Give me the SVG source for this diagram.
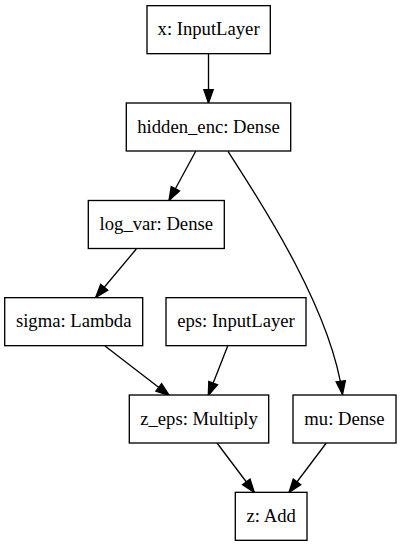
<svg xmlns="http://www.w3.org/2000/svg" width="401" height="547" viewBox="0 0 401 547">
<style>
.box{fill:#ffffff;stroke:#000000;stroke-width:1.33}
.lbl{font-family:"Liberation Serif","Times New Roman",serif;font-size:18.67px;fill:#000000;text-anchor:middle}
.edge{fill:none;stroke:#000000;stroke-width:1.33}
</style>
<defs>
<marker id="arr" markerUnits="userSpaceOnUse" markerWidth="16" markerHeight="12" viewBox="-1 -6 16 12" refX="13.33" refY="0" orient="auto">
<path d="M0,-4.67 L13.33,0 L0,4.67 Z" fill="#000000" stroke="#000000" stroke-width="1.33"/>
</marker>
</defs>
<rect width="401" height="547" fill="#ffffff"/>
<g id="connectors">
<path class="edge" marker-end="url(#arr)" d="M208.5,54 L208.5,103"/>
<path class="edge" marker-end="url(#arr)" d="M195.7,151.3 L169,200.5"/>
<path class="edge" marker-end="url(#arr)" d="M228,151.3 C258,198 331,308 342.5,394.5"/>
<path class="edge" marker-end="url(#arr)" d="M136.3,249 L95.7,297.5"/>
<path class="edge" marker-end="url(#arr)" d="M105,346 L169.3,395.5"/>
<path class="edge" marker-end="url(#arr)" d="M227.7,346 L208.3,395.5"/>
<path class="edge" marker-end="url(#arr)" d="M217,443 L254.3,492.5"/>
<path class="edge" marker-end="url(#arr)" d="M326.3,443 L289,492.5"/>
</g>
<g id="node-x">
<rect class="box" x="147" y="5.67" width="123.3" height="48"/>
<text class="lbl" x="208.6" y="35.3">x: InputLayer</text>
</g>
<g id="node-hidden_enc">
<rect class="box" x="126.3" y="103" width="164.4" height="48"/>
<text class="lbl" x="208.5" y="132.6">hidden_enc: Dense</text>
</g>
<g id="node-log_var">
<rect class="box" x="88.3" y="200.5" width="136" height="48"/>
<text class="lbl" x="156.3" y="230.1">log_var: Dense</text>
</g>
<g id="node-sigma">
<rect class="box" x="4.7" y="297.67" width="138" height="48"/>
<text class="lbl" x="73.7" y="327.3">sigma: Lambda</text>
</g>
<g id="node-eps">
<rect class="box" x="166" y="297.67" width="140" height="48"/>
<text class="lbl" x="236" y="327.3">eps: InputLayer</text>
</g>
<g id="node-z_eps">
<rect class="box" x="129.3" y="395" width="139.4" height="48"/>
<text class="lbl" x="199" y="424.6">z_eps: Multiply</text>
</g>
<g id="node-mu">
<rect class="box" x="293" y="395" width="103" height="48"/>
<text class="lbl" x="344.5" y="424.6">mu: Dense</text>
</g>
<g id="node-z">
<rect class="box" x="235.3" y="492.33" width="71.7" height="48"/>
<text class="lbl" x="271.2" y="521.9">z: Add</text>
</g>
</svg>
